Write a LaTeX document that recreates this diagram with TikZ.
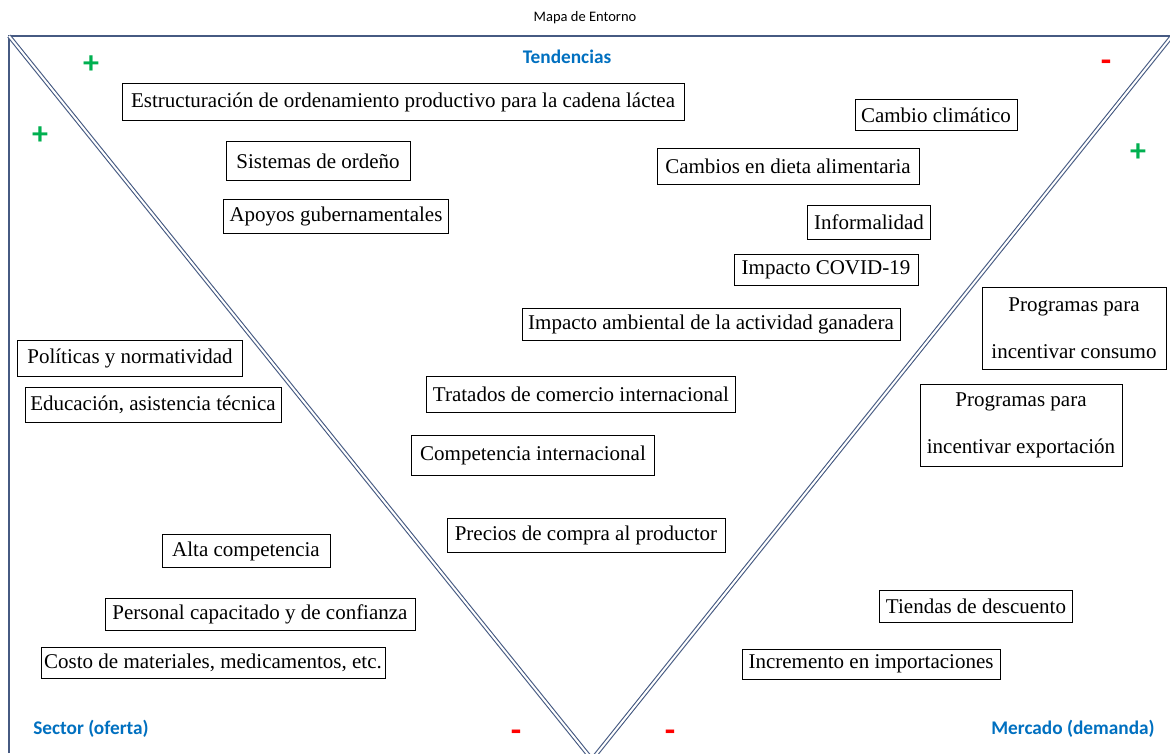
\documentclass[tikz,border=0pt]{standalone}
\usepackage{fontspec}
\setmainfont{Liberation Serif}
\newfontfamily\carlito{Carlito}
\definecolor{frame}{RGB}{70,90,130}
\definecolor{plusgreen}{RGB}{0,176,80}
\definecolor{minusred}{RGB}{255,0,0}
\definecolor{headblue}{RGB}{0,112,192}
\begin{document}
\begin{tikzpicture}[x=1pt,y=-1pt,
  item/.style={draw=black,line width=1pt,inner sep=0pt,align=center,
    font=\fontsize{21}{24}\selectfont},
  twoline/.style={item,font=\fontsize{21}{47}\selectfont},
  head/.style={text=headblue,font=\carlito\bfseries\fontsize{19.3}{22}\selectfont,inner sep=0pt},
  plus/.style={text=plusgreen,font=\carlito\bfseries\fontsize{32}{32}\selectfont,inner sep=0pt},
  minus/.style={text=minusred,font=\carlito\bfseries\fontsize{34}{34}\selectfont,inner sep=0pt},
  border/.style={draw=frame,line width=1.2pt},
  vline/.style={draw=frame,double=white,double distance=2pt,line width=1.1pt}]
\useasboundingbox (0,0) rectangle (1170,753);
\fill[white] (0,0) rectangle (1170,753);
% frame
\begin{scope}
\clip (0,0) rectangle (1170,753);
\draw[border] (9,753) -- (9,36) -- (1170,36);
\draw[vline] (9,36) -- (590,757);
\draw[vline] (1172,36) -- (594,757);
\end{scope}
% title and headings
\node[inner sep=0pt,font=\carlito\fontsize{14.5}{16}\selectfont] (title) at (585,18) {Mapa de Entorno};
\node[head] (tend) at (567,57) {Tendencias};
\node[head] (sector) at (91,729) {Sector (oferta)};
\node[head] (mercado) at (1073,729) {Mercado (demanda)};
% signs
\node[plus] (p1) at (91,65) {+};
\node[plus] (p2) at (40,136) {+};
\node[plus] (p3) at (1138,153) {+};
\node[minus] (m1) at (1106,66) {-};
\node[minus] (m2) at (516,736) {-};
\node[minus] (m3) at (670,736) {-};
% boxes
\node[item,minimum width=562pt,minimum height=37pt] (b1) at (403,102) {Estructuración de ordenamiento productivo para la cadena láctea};
\node[item,minimum width=184pt,minimum height=39pt] (b2) at (318,161) {Sistemas de ordeño};
\node[item,minimum width=225pt,minimum height=34pt] (b3) at (336,216) {Apoyos gubernamentales};
\node[item,minimum width=162pt,minimum height=31pt] (b4) at (936,115) {Cambio climático};
\node[item,minimum width=262pt,minimum height=36pt] (b5) at (788,166) {Cambios en dieta alimentaria};
\node[item,minimum width=123pt,minimum height=34pt] (b6) at (869,222) {Informalidad};
\node[item,minimum width=184pt,minimum height=31pt] (b7) at (826,270) {Impacto COVID-19};
\node[item,minimum width=378pt,minimum height=32pt] (b8) at (711,324) {Impacto ambiental de la actividad ganadera};
\node[twoline,minimum width=184pt,minimum height=82pt] (b9) at (1074,328) {Programas para\\incentivar consumo};
\node[item,minimum width=225pt,minimum height=36pt] (b10) at (130,358) {Políticas y normatividad};
\node[item,minimum width=256pt,minimum height=35pt] (b11) at (153,405) {Educación, asistencia técnica};
\node[item,minimum width=309pt,minimum height=36pt] (b12) at (581,394) {Tratados de comercio internacional};
\node[twoline,minimum width=202pt,minimum height=82pt] (b13) at (1021,425) {Programas para\\incentivar exportación};
\node[item,minimum width=243pt,minimum height=40pt] (b14) at (533,455) {Competencia internacional};
\node[item,minimum width=278pt,minimum height=34pt] (b15) at (586,535) {Precios de compra al productor};
\node[item,minimum width=168pt,minimum height=33pt] (b16) at (246,551) {Alta competencia};
\node[item,minimum width=310pt,minimum height=32pt] (b17) at (260,614) {Personal capacitado y de confianza};
\node[item,minimum width=344pt,minimum height=31pt] (b18) at (213,663) {Costo de materiales, medicamentos, etc.};
\node[item,minimum width=193pt,minimum height=32pt] (b19) at (976,606) {Tiendas de descuento};
\node[item,minimum width=258pt,minimum height=30pt] (b20) at (871,664) {Incremento en importaciones};
\end{tikzpicture}
\end{document}
